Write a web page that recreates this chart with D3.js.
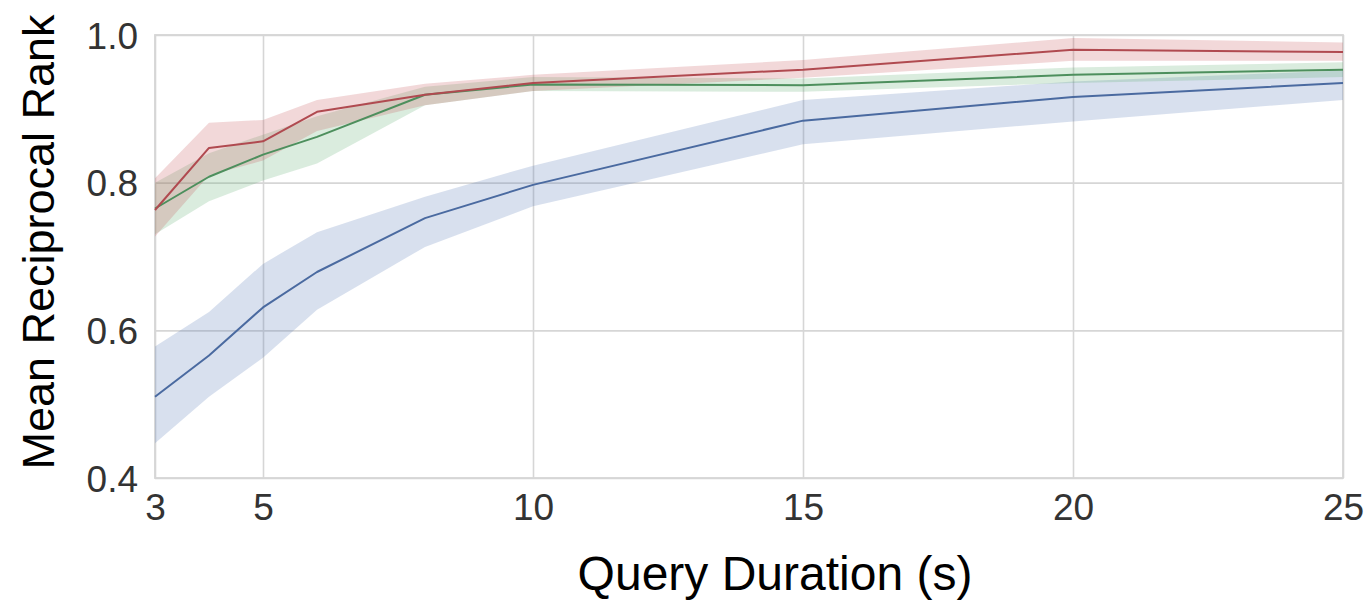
<!DOCTYPE html>
<html>
<head>
<meta charset="utf-8">
<script src="https://cdn.jsdelivr.net/npm/d3@7"></script>
<style>
  html, body { margin: 0; padding: 0; background: #fff; }
  svg { display: block; }
  text { font-family: "Liberation Sans", Arial, Helvetica, sans-serif; }
</style>
</head>
<body>
<svg id="chart" width="1372" height="600"></svg>
<script>
// ---- data ----
const durations = [3, 4, 5, 6, 8, 10, 15, 20, 25];

const blueMean = [0.510, 0.566, 0.631, 0.679, 0.752, 0.797, 0.884, 0.916, 0.935];
const blueLow  = [0.447, 0.510, 0.563, 0.628, 0.713, 0.768, 0.852, 0.883, 0.912];
const blueHigh = [0.578, 0.625, 0.690, 0.733, 0.781, 0.823, 0.912, 0.937, 0.952];

const greenMean = [0.765, 0.808, 0.838, 0.862, 0.919, 0.933, 0.932, 0.946, 0.953];
const greenLow  = [0.730, 0.775, 0.803, 0.826, 0.905, 0.924, 0.923, 0.935, 0.943];
const greenHigh = [0.800, 0.840, 0.865, 0.890, 0.930, 0.943, 0.941, 0.956, 0.963];

const redMean = [0.763, 0.847, 0.856, 0.896, 0.919, 0.935, 0.953, 0.980, 0.977];
const redLow  = [0.727, 0.810, 0.830, 0.870, 0.905, 0.924, 0.942, 0.965, 0.965];
const redHigh = [0.806, 0.881, 0.885, 0.912, 0.934, 0.946, 0.966, 0.996, 0.990];

const xTicks = [3, 5, 10, 15, 20, 25];
const yTicks = [0.4, 0.6, 0.8, 1.0];
const xTitle = "Query Duration (s)";
const yTitle = "Mean Reciprocal Rank";

// ---- layout ----
const svg = d3.select("#chart");
const pLeft = 155, pRight = 1343, pTop = 35, pBottom = 478;

const x = d3.scaleLinear().domain([3, 25]).range([pLeft, pRight]);
const y = d3.scaleLinear().domain([0.4, 1.0]).range([pBottom, pTop]);

svg.append("rect").attr("width", 1372).attr("height", 600).attr("fill", "#fff");

const gridColor = "#d6d6d6";

const gx = svg.append("g").attr("transform", `translate(0,${pBottom})`)
  .call(d3.axisBottom(x).tickValues(xTicks).tickSize(-(pBottom - pTop)).tickFormat(d3.format("d")).tickPadding(16));
gx.select(".domain").remove();
gx.selectAll(".tick line").attr("stroke", gridColor).attr("stroke-width", 1.6);
gx.selectAll(".tick text")
  .attr("font-size", 37).attr("fill", "#333")
  .attr("font-family", '"Liberation Sans", Arial, sans-serif')
  .attr("dy", "0.71em");

const gy = svg.append("g").attr("transform", `translate(${pLeft},0)`)
  .call(d3.axisLeft(y).tickValues(yTicks).tickSize(-(pRight - pLeft)).tickFormat(d3.format(".1f")).tickPadding(17));
gy.select(".domain").remove();
gy.selectAll(".tick line").attr("stroke", gridColor).attr("stroke-width", 1.6);
gy.selectAll(".tick text")
  .attr("font-size", 37).attr("fill", "#333")
  .attr("font-family", '"Liberation Sans", Arial, sans-serif')
  .attr("dy", "0.36em");

svg.append("rect")
  .attr("x", pLeft).attr("y", pTop)
  .attr("width", pRight - pLeft).attr("height", pBottom - pTop)
  .attr("fill", "none").attr("stroke", gridColor).attr("stroke-width", 1.8);

// ---- series ----
const series = [
  { color: "#4c72b0", mean: blueMean, low: blueLow, high: blueHigh, line: "#4a6aa0" },
  { color: "#55a868", mean: greenMean, low: greenLow, high: greenHigh, line: "#4d8f5d" },
  { color: "#c44e52", mean: redMean, low: redLow, high: redHigh, line: "#b04a50" }
];

const area = d3.area()
  .x((d, i) => x(durations[i]))
  .y0(d => y(d[0]))
  .y1(d => y(d[1]));
const line = d3.line()
  .x((d, i) => x(durations[i]))
  .y(d => y(d));

series.forEach(s => {
  const band = s.low.map((v, i) => [v, s.high[i]]);
  svg.append("path")
    .attr("d", area(band))
    .attr("fill", s.color)
    .attr("fill-opacity", 0.22)
    .attr("stroke", "none");
});
series.forEach(s => {
  svg.append("path")
    .attr("d", line(s.mean))
    .attr("fill", "none")
    .attr("stroke", s.line)
    .attr("stroke-width", 2)
    .attr("stroke-linejoin", "round");
});

// ---- titles ----
svg.append("text")
  .attr("x", 775).attr("y", 590)
  .attr("text-anchor", "middle")
  .attr("font-size", 48)
  .attr("fill", "#000")
  .text(xTitle);

svg.append("text")
  .attr("transform", "translate(54,242) rotate(-90)")
  .attr("text-anchor", "middle")
  .attr("font-size", 45)
  .attr("fill", "#000")
  .text(yTitle);
</script>
</body>
</html>
